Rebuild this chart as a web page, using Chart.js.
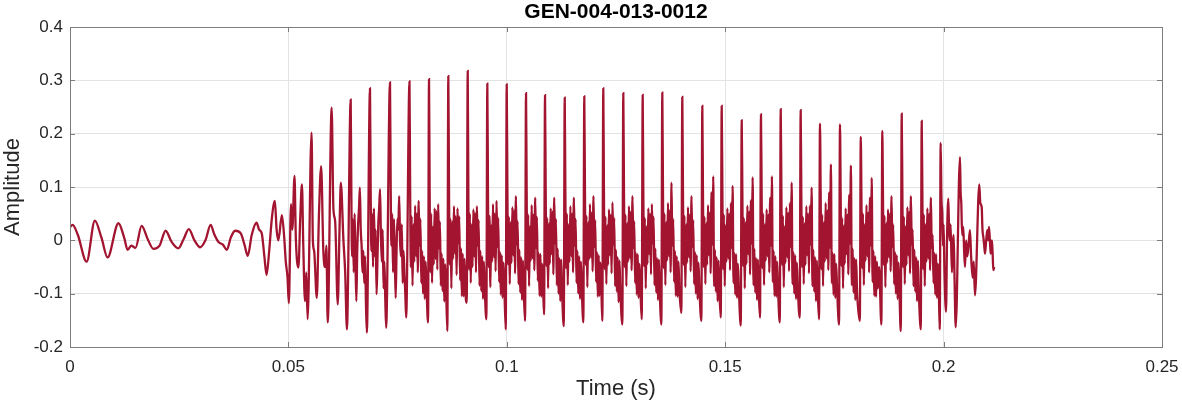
<!DOCTYPE html>
<html>
<head>
<meta charset="utf-8">
<script src="https://cdn.jsdelivr.net/npm/chart.js@4"></script>
<style>
	html, body { margin: 0; padding: 0; background: #fff; }
</style>
</head>
<body>
<canvas id="waveChart" width="1182" height="404"></canvas>
<script>
// Значения (время в секундах, амплитуда)
const timeSec = [
	// до начала звука
	0.0000, 0.0006, 0.0018, 0.0038, 0.0057, 0.0072, 0.0086, 0.0111, 0.0124, 0.0132,
	0.0140, 0.0150, 0.0164, 0.0178, 0.0191, 0.0205, 0.0219, 0.0232, 0.0248, 0.0260,
	0.0272, 0.0285, 0.0298, 0.0310, 0.0322, 0.0330, 0.0340, 0.0350, 0.0359, 0.0368,
	0.0378, 0.0391, 0.0400, 0.0407, 0.0416, 0.0427, 0.0433, 0.0439, 0.0445, 0.0450,
	0.0456, 0.0462, 0.0469, 0.0473, 0.0477, 0.0485, 0.0490, 0.0494, 0.0498,
	// первые периоды
	0.0501, 0.0506, 0.0509, 0.0514, 0.0517, 0.0523, 0.0527, 0.0531, 0.0534, 0.0538, 0.0541, 0.0544,
	0.0553, 0.0556, 0.0559, 0.0565, 0.0570, 0.0575, 0.0580, 0.0584, 0.0587, 0.0590,
	0.0599, 0.0603, 0.0607, 0.0613, 0.0617, 0.0620, 0.0626, 0.0630, 0.0634,
	0.06426, 0.06441, 0.06456, 0.06476, 0.06496, 0.06516, 0.06536, 0.06556, 0.06576, 0.06596, 0.06616, 0.06636, 0.06656, 0.06676, 0.06696, 0.06716, 0.06736, 0.06756, 0.06776, 0.06796,
	0.06868, 0.06883, 0.06898, 0.06918, 0.06938, 0.06958, 0.06978, 0.06998, 0.07018, 0.07038, 0.07058, 0.07078, 0.07098, 0.07118, 0.07138, 0.07158, 0.07178, 0.07198, 0.07218, 0.07238,
	0.07326, 0.07341, 0.07356, 0.07376, 0.07396, 0.07416, 0.07436, 0.07456, 0.07476, 0.07496, 0.07516, 0.07536, 0.07556, 0.07576, 0.07596, 0.07616, 0.07636, 0.07656, 0.07676, 0.07696,
	// основная часть, по периоду на строку
	0.07772, 0.07787, 0.07802, 0.07822, 0.07842, 0.07862, 0.07882, 0.07902, 0.07922, 0.07942, 0.07962, 0.07982, 0.08002, 0.08022, 0.08042, 0.08062, 0.08082, 0.08102, 0.08122, 0.08142, 0.08162,
	0.08197, 0.08219, 0.08234, 0.08249, 0.08269, 0.08289, 0.08309, 0.08329, 0.08349, 0.08369, 0.08389, 0.08409, 0.08429, 0.08449, 0.08469, 0.08489, 0.08509, 0.08529, 0.08549, 0.08569, 0.08589, 0.08609,
	0.08639, 0.08661, 0.08676, 0.08691, 0.08711, 0.08731, 0.08751, 0.08771, 0.08791, 0.08811, 0.08831, 0.08851, 0.08871, 0.08891, 0.08911, 0.08931, 0.08951, 0.08971, 0.08991, 0.09011, 0.09031, 0.09051,
	0.09083, 0.09105, 0.09120, 0.09135, 0.09155, 0.09175, 0.09195, 0.09215, 0.09235, 0.09255, 0.09275, 0.09295, 0.09315, 0.09335, 0.09355, 0.09375, 0.09395, 0.09415, 0.09435, 0.09455, 0.09475, 0.09495,
	0.09532, 0.09554, 0.09569, 0.09584, 0.09604, 0.09624, 0.09644, 0.09664, 0.09684, 0.09704, 0.09724, 0.09744, 0.09764, 0.09784, 0.09804, 0.09824, 0.09844, 0.09864, 0.09884, 0.09904, 0.09924, 0.09944,
	0.09976, 0.09998, 0.10013, 0.10028, 0.10048, 0.10068, 0.10088, 0.10108, 0.10128, 0.10148, 0.10168, 0.10188, 0.10208, 0.10228, 0.10248, 0.10268, 0.10288, 0.10308, 0.10328, 0.10348, 0.10368, 0.10388,
	0.10418, 0.10440, 0.10455, 0.10470, 0.10490, 0.10510, 0.10530, 0.10550, 0.10570, 0.10590, 0.10610, 0.10630, 0.10650, 0.10670, 0.10690, 0.10710, 0.10730, 0.10750, 0.10770, 0.10790, 0.10810, 0.10830,
	0.10853, 0.10875, 0.10890, 0.10905, 0.10925, 0.10945, 0.10965, 0.10985, 0.11005, 0.11025, 0.11045, 0.11065, 0.11085, 0.11105, 0.11125, 0.11145, 0.11165, 0.11185, 0.11205, 0.11225, 0.11245, 0.11265,
	0.11304, 0.11326, 0.11341, 0.11356, 0.11376, 0.11396, 0.11416, 0.11436, 0.11456, 0.11476, 0.11496, 0.11516, 0.11536, 0.11556, 0.11576, 0.11596, 0.11616, 0.11636, 0.11656, 0.11676, 0.11696, 0.11716,
	0.11752, 0.11774, 0.11789, 0.11804, 0.11824, 0.11844, 0.11864, 0.11884, 0.11904, 0.11924, 0.11944, 0.11964, 0.11984, 0.12004, 0.12024, 0.12044, 0.12064, 0.12084, 0.12104, 0.12124, 0.12144, 0.12164,
	0.12187, 0.12209, 0.12224, 0.12239, 0.12259, 0.12279, 0.12299, 0.12319, 0.12339, 0.12359, 0.12379, 0.12399, 0.12419, 0.12439, 0.12459, 0.12479, 0.12499, 0.12519, 0.12539, 0.12559, 0.12579, 0.12599,
	0.12645, 0.12667, 0.12682, 0.12697, 0.12717, 0.12737, 0.12757, 0.12777, 0.12797, 0.12817, 0.12837, 0.12857, 0.12877, 0.12897, 0.12917, 0.12937, 0.12957, 0.12977, 0.12997, 0.13017, 0.13037, 0.13057,
	0.13089, 0.13111, 0.13126, 0.13141, 0.13161, 0.13181, 0.13201, 0.13221, 0.13241, 0.13261, 0.13281, 0.13301, 0.13321, 0.13341, 0.13361, 0.13381, 0.13401, 0.13421, 0.13441, 0.13461, 0.13481, 0.13501,
	0.13538, 0.13560, 0.13575, 0.13590, 0.13610, 0.13630, 0.13650, 0.13670, 0.13690, 0.13710, 0.13730, 0.13750, 0.13770, 0.13790, 0.13810, 0.13830, 0.13850, 0.13870, 0.13890, 0.13910, 0.13930, 0.13950,
	0.13996, 0.14018, 0.14033, 0.14048, 0.14068, 0.14088, 0.14108, 0.14128, 0.14148, 0.14168, 0.14188, 0.14208, 0.14228, 0.14248, 0.14268, 0.14288, 0.14308, 0.14328, 0.14348, 0.14368, 0.14388, 0.14408,
	0.14454, 0.14476, 0.14491, 0.14506, 0.14526, 0.14546, 0.14566, 0.14586, 0.14606, 0.14626, 0.14646, 0.14666, 0.14686, 0.14706, 0.14726, 0.14746, 0.14766, 0.14786, 0.14806, 0.14826, 0.14846, 0.14866,
	0.14898, 0.14920, 0.14935, 0.14950, 0.14970, 0.14990, 0.15010, 0.15030, 0.15050, 0.15070, 0.15090, 0.15110, 0.15130, 0.15150, 0.15170, 0.15190, 0.15210, 0.15230, 0.15250, 0.15270, 0.15290, 0.15310,
	0.15356, 0.15378, 0.15393, 0.15408, 0.15428, 0.15448, 0.15468, 0.15488, 0.15508, 0.15528, 0.15548, 0.15568, 0.15588, 0.15608, 0.15628, 0.15648, 0.15668, 0.15688, 0.15708, 0.15728, 0.15748, 0.15768,
	0.15797, 0.15819, 0.15834, 0.15849, 0.15869, 0.15889, 0.15909, 0.15929, 0.15949, 0.15969, 0.15989, 0.16009, 0.16029, 0.16049, 0.16069, 0.16089, 0.16109, 0.16129, 0.16149, 0.16169, 0.16189, 0.16209,
	0.16249, 0.16271, 0.16286, 0.16301, 0.16321, 0.16341, 0.16361, 0.16381, 0.16401, 0.16421, 0.16441, 0.16461, 0.16481, 0.16501, 0.16521, 0.16541, 0.16561, 0.16581, 0.16601, 0.16621, 0.16641, 0.16661,
	0.16706, 0.16728, 0.16743, 0.16758, 0.16778, 0.16798, 0.16818, 0.16838, 0.16858, 0.16878, 0.16898, 0.16918, 0.16938, 0.16958, 0.16978, 0.16998, 0.17018, 0.17038, 0.17058, 0.17078, 0.17098, 0.17118,
	0.17148, 0.17170, 0.17185, 0.17200, 0.17220, 0.17240, 0.17260, 0.17280, 0.17300, 0.17320, 0.17340, 0.17360, 0.17380, 0.17400, 0.17420, 0.17440, 0.17460, 0.17480, 0.17500, 0.17520, 0.17540, 0.17560,
	0.17606, 0.17628, 0.17643, 0.17658, 0.17678, 0.17698, 0.17718, 0.17738, 0.17758, 0.17778, 0.17798, 0.17818, 0.17838, 0.17858, 0.17878, 0.17898, 0.17918, 0.17938, 0.17958, 0.17978, 0.17998, 0.18018,
	0.18082, 0.18104, 0.18119, 0.18134, 0.18154, 0.18174, 0.18194, 0.18214, 0.18234, 0.18254, 0.18274, 0.18294, 0.18314, 0.18334, 0.18354, 0.18374, 0.18394, 0.18414, 0.18434, 0.18454, 0.18474, 0.18494, 0.18524,
	0.18575, 0.18597, 0.18612, 0.18627, 0.18647, 0.18667, 0.18687, 0.18707, 0.18727, 0.18747, 0.18767, 0.18787, 0.18807, 0.18827, 0.18847, 0.18867, 0.18887, 0.18907, 0.18927, 0.18947, 0.18967, 0.18987,
	0.19019, 0.19041, 0.19056, 0.19071, 0.19091, 0.19111, 0.19131, 0.19151, 0.19171, 0.19191, 0.19211, 0.19231, 0.19251, 0.19271, 0.19291, 0.19311, 0.19331, 0.19351, 0.19371, 0.19391, 0.19411, 0.19431,
	0.19477, 0.19499, 0.19514, 0.19529, 0.19549, 0.19569, 0.19589, 0.19609, 0.19629, 0.19649, 0.19669, 0.19689, 0.19709, 0.19729, 0.19749, 0.19769, 0.19789, 0.19809, 0.19829, 0.19849, 0.19869, 0.19889,
	// затухание
	0.19911, 0.19933, 0.19950, 0.19970, 0.19985, 0.20000, 0.20020, 0.20055, 0.20080, 0.20108, 0.20125, 0.20140, 0.20160, 0.20190, 0.20210, 0.20230, 0.20250, 0.20277,
	0.20375, 0.20390, 0.20405, 0.20425, 0.20451, 0.20470, 0.20490, 0.20515, 0.20543, 0.20570, 0.20604, 0.20630, 0.20665, 0.20690, 0.20718,
	0.20817, 0.20840, 0.20872, 0.20890, 0.20910, 0.20930, 0.20948, 0.20975, 0.21000, 0.21020, 0.21039, 0.21060, 0.21077, 0.21095, 0.21108, 0.21125, 0.21138, 0.21160
];

const amplitude = [
	0.025, 0.029, 0.010, -0.040, 0.037, 0.005, -0.032, 0.032, 0.005, -0.018,
	-0.010, -0.014, 0.027, 0.002, -0.016, -0.010, 0.018, -0.002, -0.015, 0.002,
	0.021, 0.000, -0.013, 0.000, 0.029, 0.012, -0.003, -0.008, -0.018, 0.005,
	0.018, 0.013, -0.010, -0.029, 0.010, 0.033, 0.020, 0.013, -0.030, -0.065,
	-0.020, 0.040, 0.074, 0.020, 0.000, 0.047, 0.010, -0.040, -0.070,
	-0.118, 0.068, 0.020, 0.121, 0.005, -0.051, 0.040, 0.105, -0.007, -0.114, -0.060, -0.148,
	0.202, 0.000, -0.020, -0.108, 0.050, 0.139, -0.020, -0.050, -0.010, -0.154,
	0.249, 0.060, 0.036, -0.120, 0.020, 0.108, 0.000, -0.060, -0.167,
	0.264, 0.090, -0.030, 0.040, -0.060, 0.050, -0.040, -0.114, -0.020, 0.030, 0.060, 0.099, 0.020, -0.010, -0.060, -0.020, -0.080, -0.030, -0.120, -0.173,
	0.285, 0.100, -0.020, 0.050, -0.050, 0.060, -0.030, 0.020, -0.101, -0.040, 0.030, 0.060, 0.096, 0.010, -0.040, 0.020, -0.090, -0.040, -0.110, -0.164,
	0.296, 0.110, -0.010, 0.050, -0.060, 0.040, -0.030, -0.108, -0.020, 0.040, 0.020, 0.083, 0.000, -0.030, 0.030, -0.080, -0.020, -0.060, -0.100, -0.145,
	0.298, 0.100, -0.050, 0.045, -0.085, 0.030, -0.040, 0.065, -0.030, 0.050, -0.060, 0.074, -0.010, 0.040, -0.080, -0.020, -0.100, -0.030, -0.110, -0.040, -0.090,
	-0.154, 0.302, 0.090, -0.060, 0.050, -0.080, 0.025, -0.045, 0.060, -0.035, 0.055, -0.055, 0.068, -0.015, 0.035, -0.085, -0.025, -0.095, -0.035, -0.115, -0.045, -0.085,
	-0.170, 0.308, 0.110, -0.045, 0.040, -0.090, 0.035, -0.035, 0.064, -0.025, 0.045, -0.065, 0.060, -0.005, 0.045, -0.075, -0.015, -0.105, -0.025, -0.105, -0.035, -0.095,
	-0.117, 0.3175, 0.085, -0.055, 0.050, -0.080, 0.030, -0.050, 0.058, -0.030, 0.052, -0.060, 0.064, -0.010, 0.038, -0.085, -0.020, -0.095, -0.030, -0.110, -0.040, -0.090,
	-0.148, 0.294, 0.095, -0.050, 0.046, -0.088, 0.028, -0.040, 0.068, -0.032, 0.050, -0.058, 0.074, -0.012, 0.042, -0.078, -0.022, -0.102, -0.028, -0.108, -0.042, -0.088,
	-0.167, 0.2925, 0.105, -0.045, 0.044, -0.082, 0.034, -0.042, 0.062, -0.028, 0.056, -0.062, 0.083, -0.008, 0.036, -0.082, -0.018, -0.098, -0.032, -0.112, -0.038, -0.092,
	-0.151, 0.276, 0.090, -0.055, 0.048, -0.086, 0.026, -0.038, 0.066, -0.034, 0.048, -0.056, 0.080, -0.014, 0.044, -0.076, -0.024, -0.104, -0.026, -0.106, -0.044, -0.086,
	-0.139, 0.272, 0.100, -0.048, 0.042, -0.090, 0.032, -0.044, 0.060, -0.026, 0.054, -0.064, 0.080, -0.006, 0.040, -0.084, -0.016, -0.100, -0.034, -0.114, -0.036, -0.094,
	-0.161, 0.2675, 0.088, -0.052, 0.050, -0.084, 0.030, -0.040, 0.064, -0.030, 0.050, -0.060, 0.080, -0.010, 0.040, -0.080, -0.020, -0.100, -0.030, -0.110, -0.040, -0.090,
	-0.154, 0.270, 0.098, -0.046, 0.046, -0.088, 0.034, -0.036, 0.068, -0.032, 0.052, -0.058, 0.083, -0.012, 0.038, -0.078, -0.022, -0.106, -0.028, -0.104, -0.042, -0.088,
	-0.151, 0.285, 0.092, -0.054, 0.044, -0.082, 0.028, -0.046, 0.058, -0.028, 0.048, -0.062, 0.071, -0.008, 0.042, -0.086, -0.018, -0.096, -0.032, -0.116, -0.038, -0.092,
	-0.158, 0.276, 0.104, -0.050, 0.048, -0.086, 0.032, -0.040, 0.064, -0.034, 0.054, -0.056, 0.083, -0.014, 0.036, -0.080, -0.024, -0.102, -0.026, -0.108, -0.044, -0.086,
	-0.148, 0.2725, 0.086, -0.048, 0.042, -0.090, 0.026, -0.044, 0.060, -0.026, 0.050, -0.064, 0.068, -0.006, 0.044, -0.084, -0.016, -0.098, -0.034, -0.112, -0.036, -0.094,
	-0.158, 0.277, 0.100, -0.052, 0.050, -0.084, 0.034, -0.038, 0.070, -0.030, 0.056, -0.060, 0.108, -0.010, 0.040, -0.078, -0.020, -0.104, -0.030, -0.106, -0.040, -0.090,
	-0.136, 0.269, 0.094, -0.046, 0.046, -0.088, 0.030, -0.042, 0.062, -0.032, 0.048, -0.058, 0.083, -0.012, 0.038, -0.082, -0.022, -0.100, -0.028, -0.110, -0.042, -0.088,
	-0.151, 0.252, 0.090, -0.050, 0.044, -0.082, 0.032, -0.046, 0.066, -0.028, 0.052, -0.062, 0.090, -0.008, 0.120, -0.086, -0.018, -0.096, -0.032, -0.114, -0.038, -0.092,
	-0.145, 0.252, 0.098, -0.054, 0.048, -0.086, 0.028, -0.040, 0.060, -0.034, 0.050, -0.056, 0.070, -0.014, 0.102, -0.080, -0.024, -0.102, -0.026, -0.108, -0.044, -0.086,
	-0.160, 0.225, 0.088, -0.048, 0.042, -0.090, 0.034, -0.044, 0.065, -0.026, 0.054, -0.064, 0.075, -0.006, 0.118, -0.084, -0.016, -0.098, -0.034, -0.112, -0.036, -0.094,
	-0.145, 0.236, 0.092, -0.052, 0.050, -0.084, 0.030, -0.038, 0.058, -0.030, 0.048, -0.060, 0.080, -0.010, 0.120, -0.078, -0.020, -0.104, -0.030, -0.106, -0.040, -0.090,
	-0.154, 0.246, 0.100, -0.046, 0.046, -0.088, 0.026, -0.042, 0.062, -0.032, 0.052, -0.058, 0.070, -0.012, 0.108, -0.082, -0.022, -0.100, -0.028, -0.110, -0.042, -0.088,
	-0.145, 0.244, 0.086, -0.050, 0.044, -0.082, 0.032, -0.046, 0.064, -0.028, 0.050, -0.062, 0.065, -0.008, 0.099, -0.086, -0.018, -0.096, -0.032, -0.114, -0.038, -0.092,
	-0.148, 0.219, 0.094, -0.054, 0.048, -0.086, 0.034, -0.040, 0.070, -0.034, 0.056, -0.056, 0.090, -0.014, 0.1425, -0.080, -0.024, -0.102, -0.026, -0.108, -0.044, -0.086,
	-0.158, 0.2175, 0.090, -0.048, 0.042, -0.090, 0.028, -0.044, 0.060, -0.026, 0.048, -0.064, 0.085, -0.006, 0.140, -0.084, -0.016, -0.098, -0.034, -0.112, -0.036, -0.094,
	-0.151, 0.194, 0.080, -0.052, 0.050, -0.084, 0.030, -0.038, 0.066, -0.030, 0.052, -0.060, 0.080, -0.010, 0.117, -0.078, -0.020, -0.104, -0.030, -0.106, -0.040, -0.090, -0.050,
	-0.158, 0.205, 0.085, -0.046, 0.046, -0.088, 0.032, -0.042, 0.058, -0.032, 0.050, -0.058, 0.083, -0.012, 0.030, -0.082, -0.022, -0.100, -0.028, -0.110, -0.042, -0.088,
	-0.170, 0.2375, 0.092, -0.050, 0.044, -0.082, 0.026, -0.046, 0.062, -0.028, 0.054, -0.062, 0.083, -0.008, 0.020, -0.086, -0.018, -0.096, -0.032, -0.114, -0.038, -0.092,
	-0.167, 0.224, 0.088, -0.054, 0.048, -0.086, 0.030, -0.040, 0.060, -0.034, 0.050, -0.056, 0.080, -0.014, 0.010, -0.080, -0.024, -0.102, -0.026, -0.108, -0.044, -0.086,
	-0.167, 0.1825, 0.080, 0.050, -0.010, 0.030, -0.060, -0.134, 0.010, 0.078, 0.020, 0.000, 0.030, -0.060, -0.010, 0.010, -0.070, -0.163,
	0.156, 0.090, 0.070, 0.010, 0.025, -0.020, -0.050, 0.000, -0.030, -0.010, 0.019, -0.030, -0.070, -0.040, -0.103,
	0.105, 0.070, 0.0625, 0.020, 0.006, -0.010, -0.025, 0.000, 0.019, 0.000, 0.025, 0.000, -0.025, -0.010, 0.000, -0.030, -0.056, -0.050
];

// Деления осей
const xTicks = [0, 0.05, 0.1, 0.15, 0.2, 0.25];
const xTickLabels = ['0', '0.05', '0.1', '0.15', '0.2', '0.25'];
const yTicks = [-0.2, -0.1, 0, 0.1, 0.2, 0.3, 0.4];
const yTickLabels = ['-0.2', '-0.1', '0', '0.1', '0.2', '0.3', '0.4'];

const chartTitle = 'GEN-004-013-0012';

if (timeSec.length !== amplitude.length) {
	console.error('length mismatch', timeSec.length, amplitude.length);
}
const n = Math.min(timeSec.length, amplitude.length);
const points = timeSec.slice(0, n).map((t, i) => ({ x: t, y: amplitude[i] }));

const fontFamily = 'Arial, "Liberation Sans", sans-serif';
const gridColor = '#e3e3e3';
const textColor = '#262626';

// рамка, засечки внутрь и заголовок по центру области графика
const boxPlugin = {
	id: 'boxPlugin',
	afterDatasetsDraw(chart) {
		const { ctx, chartArea: a, scales } = chart;
		ctx.save();
		ctx.strokeStyle = '#7d7d7d';
		ctx.lineWidth = 1;
		ctx.beginPath();
		xTicks.forEach(v => {
			const px = Math.round(scales.x.getPixelForValue(v)) + 0.5;
			ctx.moveTo(px, a.bottom); ctx.lineTo(px, a.bottom - 5);
			ctx.moveTo(px, a.top); ctx.lineTo(px, a.top + 5);
		});
		yTicks.forEach(v => {
			const py = Math.round(scales.y.getPixelForValue(v)) + 0.5;
			ctx.moveTo(a.left, py); ctx.lineTo(a.left + 5, py);
			ctx.moveTo(a.right, py); ctx.lineTo(a.right - 5, py);
		});
		ctx.stroke();
		ctx.strokeRect(Math.round(a.left) + 0.5, Math.round(a.top) + 0.5,
			Math.round(a.right - a.left), Math.round(a.bottom - a.top));

		ctx.fillStyle = '#000';
		ctx.font = 'bold 21px ' + fontFamily;
		ctx.textAlign = 'center';
		ctx.textBaseline = 'middle';
		ctx.fillText(chartTitle, (a.left + a.right) / 2, 12);
		ctx.restore();
	}
};

new Chart(document.getElementById('waveChart'), {
	type: 'line',
	data: {
		datasets: [{
			data: points,
			borderColor: '#A2142F',
			borderWidth: 2.3,
			pointRadius: 0,
			cubicInterpolationMode: 'monotone',
			fill: false
		}]
	},
	plugins: [boxPlugin],
	options: {
		responsive: false,
		animation: false,
		devicePixelRatio: 1,
		layout: { padding: { left: 0, right: 20, top: 27, bottom: 0 } },
		plugins: {
			legend: { display: false },
			tooltip: { enabled: false },
			title: { display: false }
		},
		scales: {
			x: {
				type: 'linear',
				min: 0,
				max: 0.25,
				afterBuildTicks: s => { s.ticks = xTicks.map(v => ({ value: v })); },
				afterFit: s => { s.height = 57; s.paddingLeft = 0; s.paddingRight = 0; },
				grid: { color: gridColor, drawTicks: false },
				border: { display: false },
				ticks: {
					color: textColor,
					padding: 10,
					maxRotation: 0,
					font: { family: fontFamily, size: 17 },
					callback: (v, i) => xTickLabels[i]
				},
				title: {
					display: true,
					text: 'Time (s)',
					color: textColor,
					font: { family: fontFamily, size: 22 },
					padding: { top: 0, bottom: 2 }
				}
			},
			y: {
				min: -0.2,
				max: 0.4,
				afterBuildTicks: s => { s.ticks = yTicks.map(v => ({ value: v })); },
				afterFit: s => { s.width = 70; },
				grid: { color: gridColor, drawTicks: false },
				border: { display: false },
				ticks: {
					color: textColor,
					padding: 7,
					font: { family: fontFamily, size: 17 },
					callback: (v, i) => yTickLabels[i]
				},
				title: {
					display: true,
					text: 'Amplitude',
					color: textColor,
					font: { family: fontFamily, size: 22 },
					padding: { top: 0, bottom: 0 }
				}
			}
		}
	}
});
</script>
</body>
</html>
